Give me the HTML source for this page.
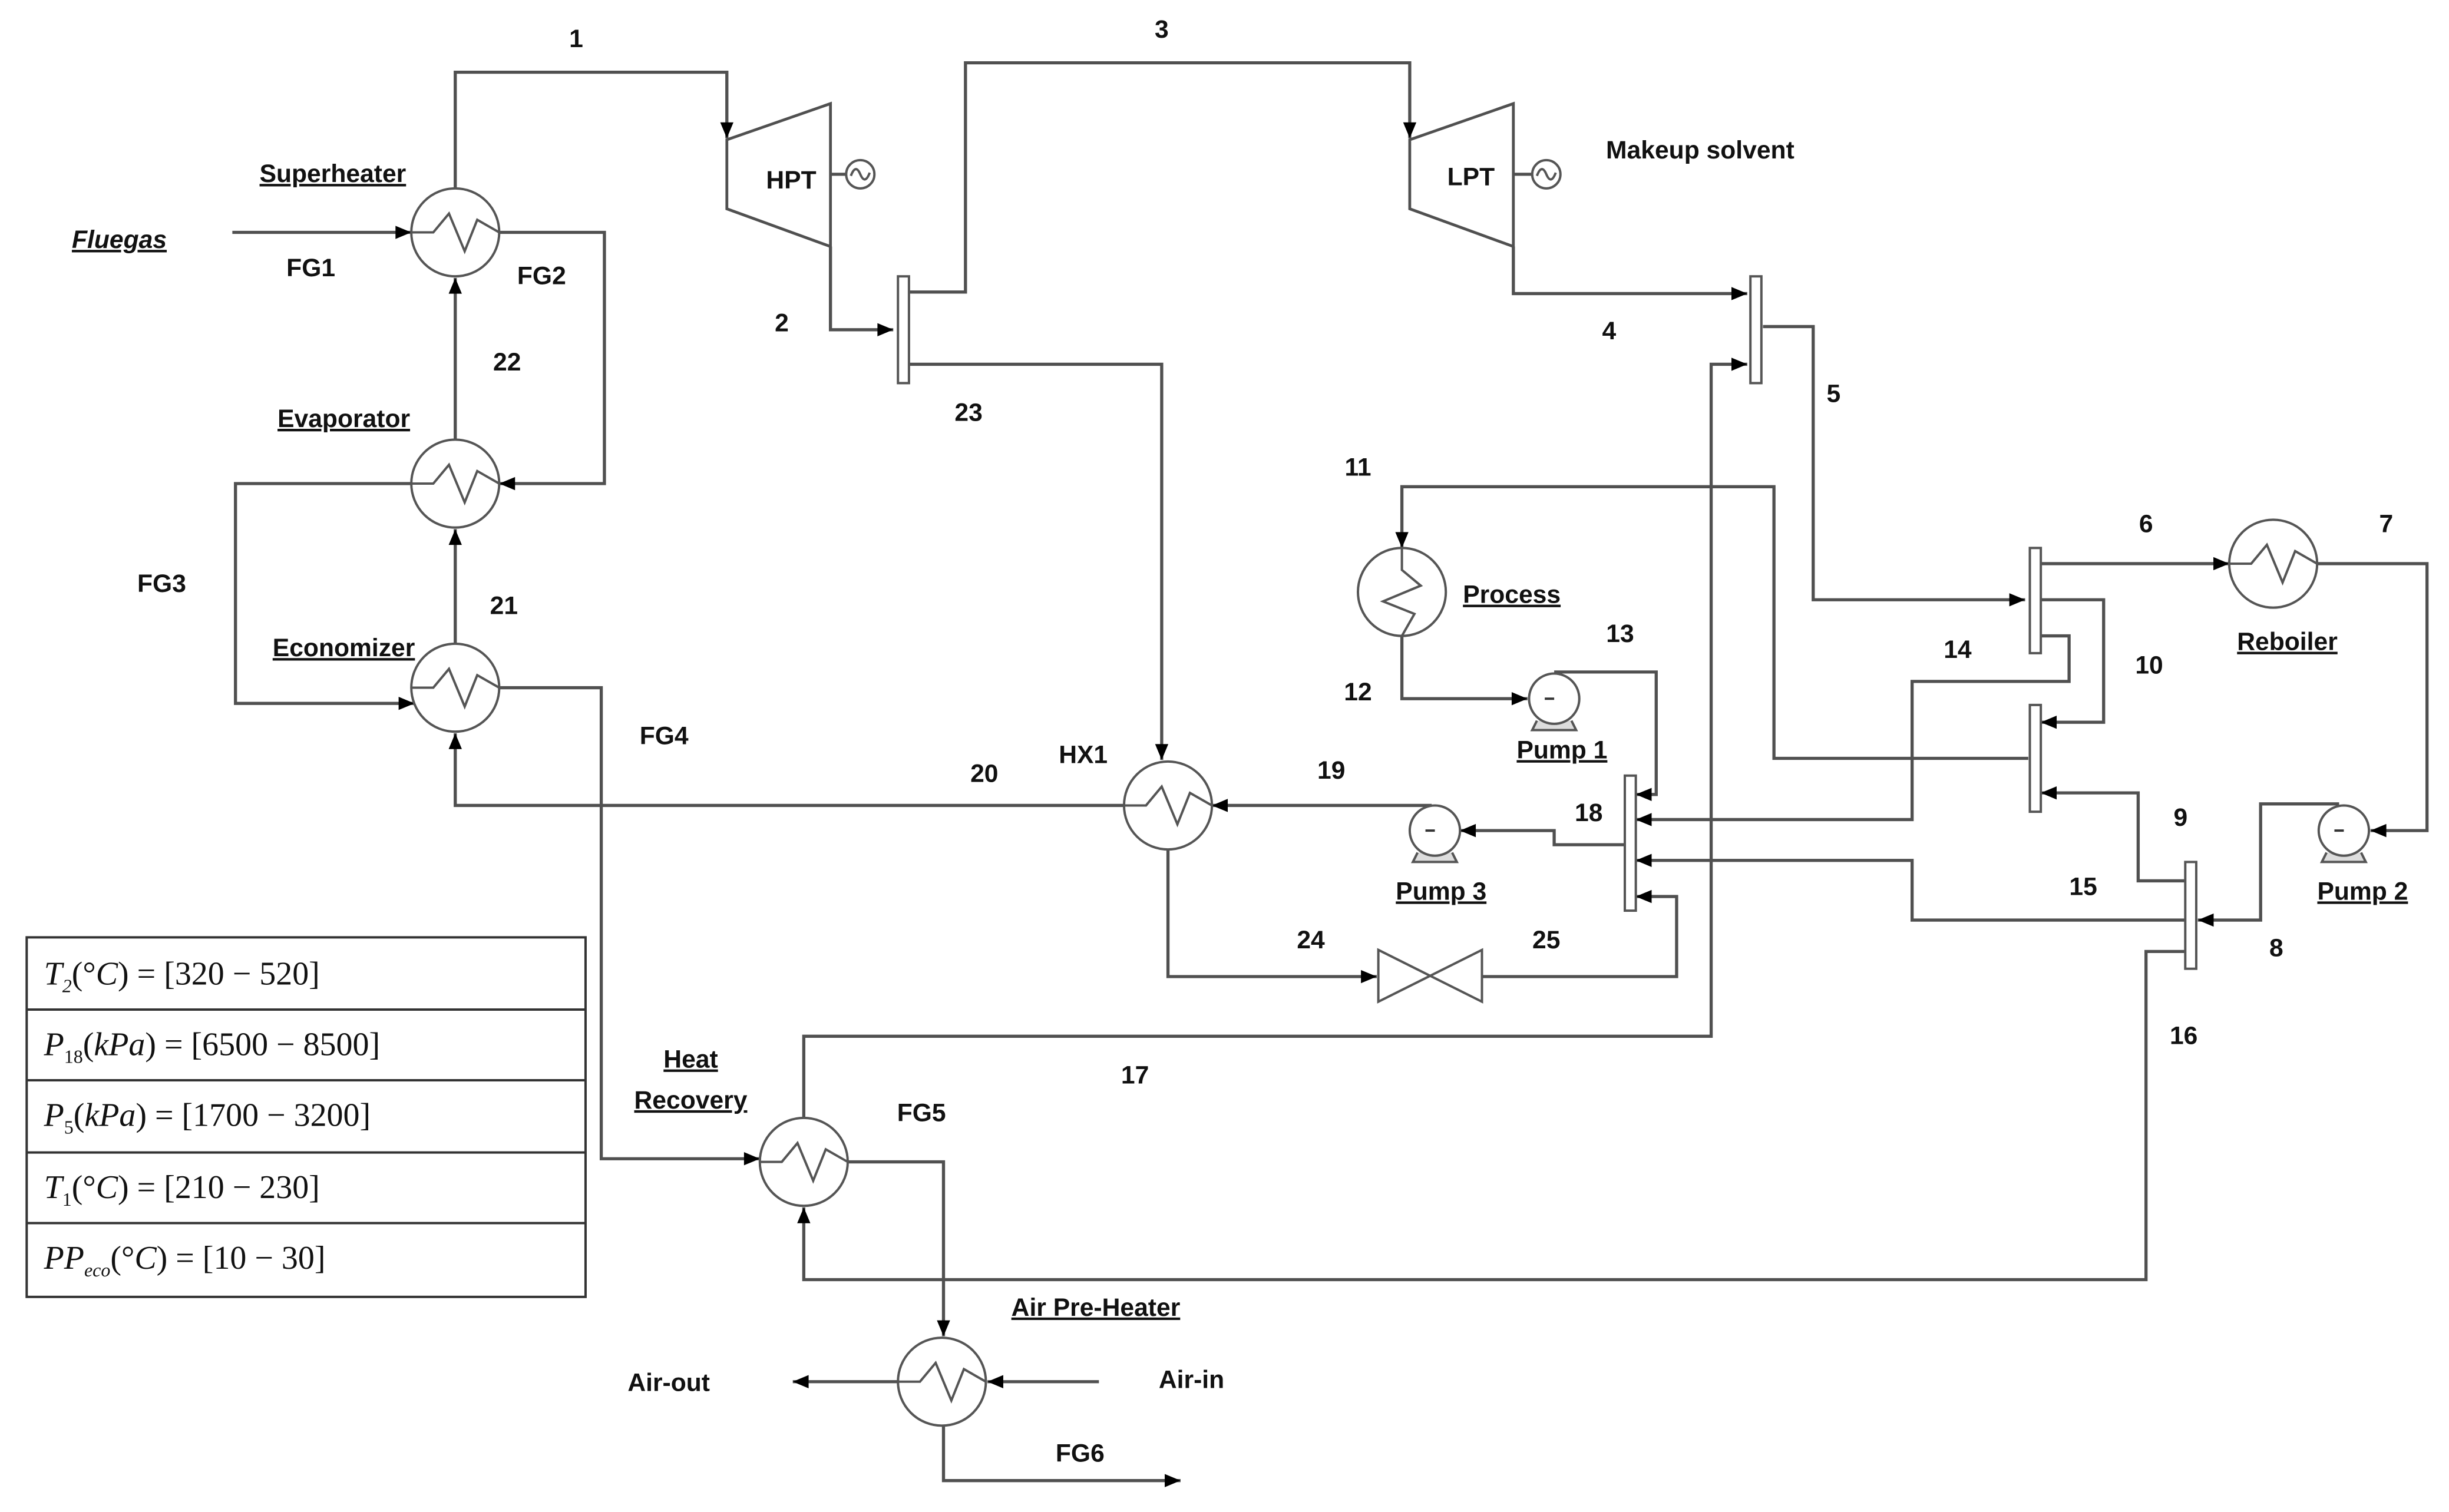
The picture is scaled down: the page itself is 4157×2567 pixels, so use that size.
<!DOCTYPE html>
<html><head><meta charset="utf-8"><style>
html,body{margin:0;padding:0;background:#fff;}
svg{display:block;}
text{font-family:"Liberation Sans",sans-serif;font-weight:bold;font-size:16px;fill:#111;}
.t{font-family:"Liberation Serif",serif;font-style:italic;font-weight:normal;font-size:21px;}
.n{font-style:normal;}
</style></head><body>
<svg width="4157" height="2567" viewBox="0 0 1560 963" preserveAspectRatio="none" xmlns="http://www.w3.org/2000/svg">
<defs>
<marker id="a" viewBox="0 0 10 10" refX="10" refY="5" markerWidth="6" markerHeight="6" orient="auto" markerUnits="userSpaceOnUse" style="overflow:visible">
<path d="M-2,0 L10,5 L-2,10 z" fill="#000" transform="translate(-4,-2) scale(1.4)"/>
</marker>
<g id="hx"><circle r="28" fill="#fff" stroke="#555" stroke-width="1.5"/><polyline points="-28,0 -14,0 -4,-12 6,12 14,-8 28,0" fill="none" stroke="#555" stroke-width="1.5"/></g>
<g id="pump"><path d="M-11,14 L-14,20 L14,20 L11,14" fill="#ddd" stroke="#555" stroke-width="1.5"/><circle r="16" fill="#fff" stroke="#555" stroke-width="1.5"/><line x1="-6" y1="0" x2="0" y2="0" stroke="#333" stroke-width="1.5"/></g>
</defs>
<g fill="none" stroke="#505050" stroke-width="2">
<polyline points="290,120 290,46 463,46 463,88" marker-end="url(#a)"/>
<polygon points="463,89 529,66 529,157 463,133" stroke-width="1.8"/>
<polygon points="898,89 964,66 964,157 898,133" stroke-width="1.8"/>
<line x1="529" y1="111" x2="539" y2="111"/><line x1="964" y1="111" x2="976" y2="111"/>
<polyline points="529,157 529,210 569,210" marker-end="url(#a)"/>
<polyline points="579,186 615,186 615,40 898,40 898,88" marker-end="url(#a)"/>
<polyline points="579,232 740,232 740,484" marker-end="url(#a)"/>
<polyline points="964,157 964,187 1113,187" marker-end="url(#a)"/>
<polyline points="1123,208 1155,208 1155,382 1290,382" marker-end="url(#a)"/>
<polyline points="512,712 512,660 1090,660 1090,232 1113,232" marker-end="url(#a)"/>
<polyline points="148,148 262,148" marker-end="url(#a)"/>
<polyline points="318,148 385,148 385,308 318,308" marker-end="url(#a)"/>
<polyline points="290,280 290,177" marker-end="url(#a)"/>
<polyline points="290,410 290,337" marker-end="url(#a)"/>
<polyline points="262,308 150,308 150,448 264,448" marker-end="url(#a)"/>
<polyline points="318,438 383,438 383,738 484,738" marker-end="url(#a)"/>
<polyline points="716,513 290,513 290,467" marker-end="url(#a)"/>
<polyline points="912,513 772,513" marker-end="url(#a)"/>
<polyline points="744,541 744,622 877,622" marker-end="url(#a)"/>
<polyline points="944,622 1068,622 1068,571 1042,571" marker-end="url(#a)"/>
<polyline points="1035,538 990,538 990,529 930,529" marker-end="url(#a)"/>
<polyline points="1292,483 1130,483 1130,310 893,310 893,349" marker-end="url(#a)"/>
<polyline points="893,405 893,445 973,445" marker-end="url(#a)"/>
<polyline points="990,428 1055,428 1055,506 1042,506" marker-end="url(#a)"/>
<polyline points="1300,405 1318,405 1318,434 1218,434 1218,522 1042,522" marker-end="url(#a)"/>
<polyline points="1392,586 1218,586 1218,548 1042,548" marker-end="url(#a)"/>
<polyline points="1300,359 1420,359" marker-end="url(#a)"/>
<polyline points="1300,382 1340,382 1340,460 1300,460" marker-end="url(#a)"/>
<polyline points="1476,359 1546,359 1546,529 1510,529" marker-end="url(#a)"/>
<polyline points="1490,512 1440,512 1440,586 1400,586" marker-end="url(#a)"/>
<polyline points="1392,561 1362,561 1362,505 1300,505" marker-end="url(#a)"/>
<polyline points="1392,606 1367,606 1367,815 512,815 512,769" marker-end="url(#a)"/>
<polyline points="540,740 601,740 601,851" marker-end="url(#a)"/>
<polyline points="700,880 629,880" marker-end="url(#a)"/>
<polyline points="572,880 505,880" marker-end="url(#a)"/>
<polyline points="601,908 601,943 752,943" marker-end="url(#a)"/>
</g>
<g fill="#fff" stroke="#555" stroke-width="1.5">
<circle cx="548" cy="111" r="9"/><circle cx="985" cy="111" r="9"/>
<path d="M542,112 Q545,104 548,111 Q551,118 554,110" fill="none"/>
<path d="M979,112 Q982,104 985,111 Q988,118 991,110" fill="none"/>
<rect x="572" y="176" width="7" height="68"/>
<rect x="1115" y="176" width="7" height="68"/>
<rect x="1293" y="349" width="7" height="67"/>
<rect x="1293" y="449" width="7" height="68"/>
<rect x="1035" y="494" width="7" height="86"/>
<rect x="1392" y="549" width="7" height="68"/>
<polygon points="878,605 944,638 944,605 878,638"/>
</g>
<use href="#hx" x="290" y="148"/>
<use href="#hx" x="290" y="308"/>
<use href="#hx" x="290" y="438"/>
<use href="#hx" x="744" y="513"/>
<use href="#hx" x="1448" y="359"/>
<use href="#hx" x="512" y="740"/>
<use href="#hx" x="600" y="880"/>
<use href="#hx" transform="translate(893,377) rotate(90)"/>
<use href="#pump" x="990" y="445"/>
<use href="#pump" x="914" y="529"/>
<use href="#pump" x="1493" y="529"/>
<g fill="none" stroke="#333" stroke-width="1.5">
<rect x="17" y="597" width="356" height="229"/>
<line x1="17" y1="643" x2="373" y2="643"/><line x1="17" y1="688" x2="373" y2="688"/>
<line x1="17" y1="734" x2="373" y2="734"/><line x1="17" y1="779" x2="373" y2="779"/>
</g>
<text class="t" x="28" y="627">T<tspan font-size="12" dy="5">2</tspan><tspan dy="-5" class="n">(°</tspan>C<tspan class="n">) = [320 − 520]</tspan></text>
<text class="t" x="28" y="672">P<tspan font-size="12" dy="5" class="n">18</tspan><tspan dy="-5" class="n">(</tspan>kPa<tspan class="n">) = [6500 − 8500]</tspan></text>
<text class="t" x="28" y="717">P<tspan font-size="12" dy="5" class="n">5</tspan><tspan dy="-5" class="n">(</tspan>kPa<tspan class="n">) = [1700 − 3200]</tspan></text>
<text class="t" x="28" y="763">T<tspan font-size="12" dy="5" class="n">1</tspan><tspan dy="-5" class="n">(°</tspan>C<tspan class="n">) = [210 − 230]</tspan></text>
<text class="t" x="28" y="808">PP<tspan font-size="12" dy="5">eco</tspan><tspan dy="-5" class="n">(°</tspan>C<tspan class="n">) = [10 − 30]</tspan></text>
<g text-anchor="middle">
<text x="367" y="30">1</text><text x="740" y="24">3</text>
<text x="212" y="116" text-decoration="underline">Superheater</text>
<text x="76" y="158" font-style="italic" text-decoration="underline">Fluegas</text>
<text x="198" y="176">FG1</text><text x="345" y="181">FG2</text>
<text x="323" y="236">22</text>
<text x="219" y="272" text-decoration="underline">Evaporator</text>
<text x="103" y="377">FG3</text><text x="321" y="391">21</text>
<text x="219" y="418" text-decoration="underline">Economizer</text>
<text x="423" y="474">FG4</text>
<text x="504" y="120">HPT</text><text x="937" y="118">LPT</text>
<text x="1083" y="101" font-size="14">Makeup solvent</text>
<text x="498" y="211">2</text><text x="617" y="268">23</text>
<text x="1025" y="216">4</text><text x="1168" y="256">5</text>
<text x="865" y="303">11</text>
<text x="963" y="384" text-decoration="underline">Process</text>
<text x="1367" y="339">6</text><text x="1520" y="339">7</text>
<text x="1457" y="414" text-decoration="underline">Reboiler</text>
<text x="1032" y="409">13</text><text x="1247" y="419">14</text><text x="1369" y="429">10</text>
<text x="865" y="446">12</text>
<text x="995" y="483" text-decoration="underline">Pump 1</text>
<text x="627" y="498">20</text><text x="690" y="486">HX1</text><text x="848" y="496">19</text>
<text x="1012" y="523">18</text><text x="1389" y="526">9</text>
<text x="918" y="573" text-decoration="underline">Pump 3</text>
<text x="1327" y="570">15</text>
<text x="1505" y="573" text-decoration="underline">Pump 2</text>
<text x="835" y="604">24</text><text x="985" y="604">25</text>
<text x="1450" y="609">8</text><text x="1391" y="665">16</text>
<text x="723" y="690">17</text>
<text x="440" y="680" text-decoration="underline">Heat</text>
<text x="440" y="706" text-decoration="underline">Recovery</text>
<text x="587" y="714">FG5</text>
<text x="698" y="838" text-decoration="underline">Air Pre-Heater</text>
<text x="426" y="886">Air-out</text><text x="759" y="884">Air-in</text>
<text x="688" y="931">FG6</text>
</g>
</svg>
</body></html>
